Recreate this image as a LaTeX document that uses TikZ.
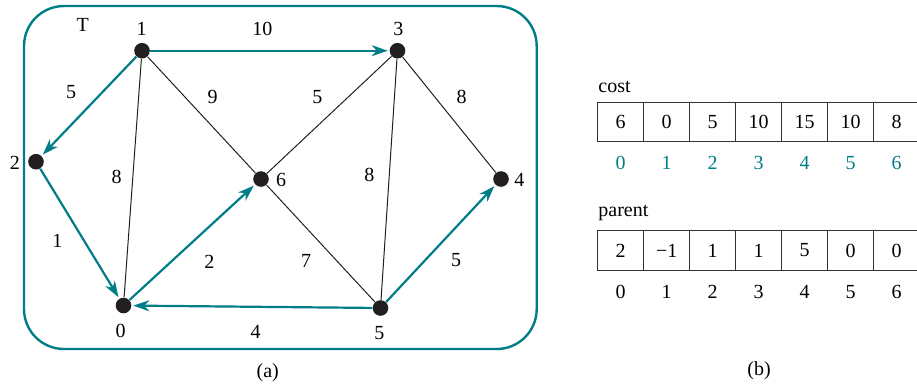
\documentclass[tikz,border=0pt]{standalone}
\usepackage{fontspec}
\setmainfont{LiberationSerif}[Extension=.ttf, UprightFont=*-Regular, BoldFont=*-Bold]
\usetikzlibrary{arrows.meta}
\definecolor{treeteal}{RGB}{0,125,135}
\definecolor{dotblack}{RGB}{35,31,32}
\begin{document}
\begin{tikzpicture}[x=0.5pt, y=-0.5pt, font=\rmfamily\fontsize{10}{12}\selectfont,
    vertex/.style={circle, fill=dotblack, inner sep=0pt, minimum size=7.8pt},
    graphedge/.style={line width=0.5pt, dotblack},
    treeedge/.style={treeteal, line width=1.1pt, -{Stealth[length=8pt, width=5.5pt, inset=2.5pt]}, shorten >=0.8pt},
    cell/.style={draw=black!80, line width=0.5pt, minimum width=23pt, minimum height=19.7pt, inner sep=0pt}]

    % Page size (picture is cut at the right edge)
    \clip (0,0) rectangle (917,388);

    % Frame of tree T
    \draw[treeteal, line width=1.2pt, rounded corners=20pt] (24,6) rectangle (536.7,349);
    \node (tname) at (82.7,25) {T};

    % Vertices
    \node[vertex] (v0) at (123.5,305.5) {};
    \node[vertex] (v1) at (142,50.7) {};
    \node[vertex] (v2) at (36,161.7) {};
    \node[vertex] (v3) at (397.5,50.7) {};
    \node[vertex] (v4) at (501,179) {};
    \node[vertex] (v5) at (380.5,308) {};
    \node[vertex] (v6) at (261,179) {};

    % Vertex labels
    \node (n0) at (120.7,330.7) {0};
    \node (n1) at (141.7,29) {1};
    \node (n2) at (15,163) {2};
    \node (n3) at (398.3,29.3) {3};
    \node (n4) at (519.3,180) {4};
    \node (n5) at (379.3,333) {5};
    \node (n6) at (281,180) {6};

    % Edges not in the tree
    \foreach \a/\b in {1/0,1/6,6/3,6/5,3/5,3/4}
        \draw[graphedge] (v\a) -- (v\b);

    % Tree edges
    \foreach \a/\b in {1/3,1/2,2/0,0/6,5/0,5/4}
        \draw[treeedge] (v\a) -- (v\b);

    % Edge weights
    \foreach \nm/\x/\y/\w in {13/262.3/29/10, 12/71/92/5, 10/116.7/177/8,
                              16/212.7/96.7/9, 63/317.3/96.7/5, 34/461.7/97.3/8,
                              35/369.3/175/8, 20/57.3/241.3/1, 06/209.3/262/2,
                              65/306/261.3/7, 50/255.7/332/4, 54/456/259.7/5}
        \node (w\nm) at (\x,\y) {\w};

    % Array cost
    \node[anchor=base west, inner sep=0pt] (costname) at (598,92.5) {cost};
    \foreach \v [count=\i from 0] in {6,0,5,10,15,10,8} {
        \node[cell] (cost\i) at ({620.7+46*\i},122) {\v};
        \node[treeteal] (ci\i) at ({620.7+46*\i},162.7) {\i};
    }

    % Array parent
    \node[anchor=base west, inner sep=0pt] (parentname) at (598,216.7) {parent};
    \foreach \v [count=\i from 0] in {2,−1,1,1,5,0,0} {
        \node[cell] (parent\i) at ({620.7+46*\i},250.5) {\v};
        \node (pi\i) at ({620.7+46*\i},291.7) {\i};
    }

    % Captions
    \node (capa) at (267.7,372.3) {(a)};
    \node (capb) at (759,371) {(b)};

\end{tikzpicture}
\end{document}
